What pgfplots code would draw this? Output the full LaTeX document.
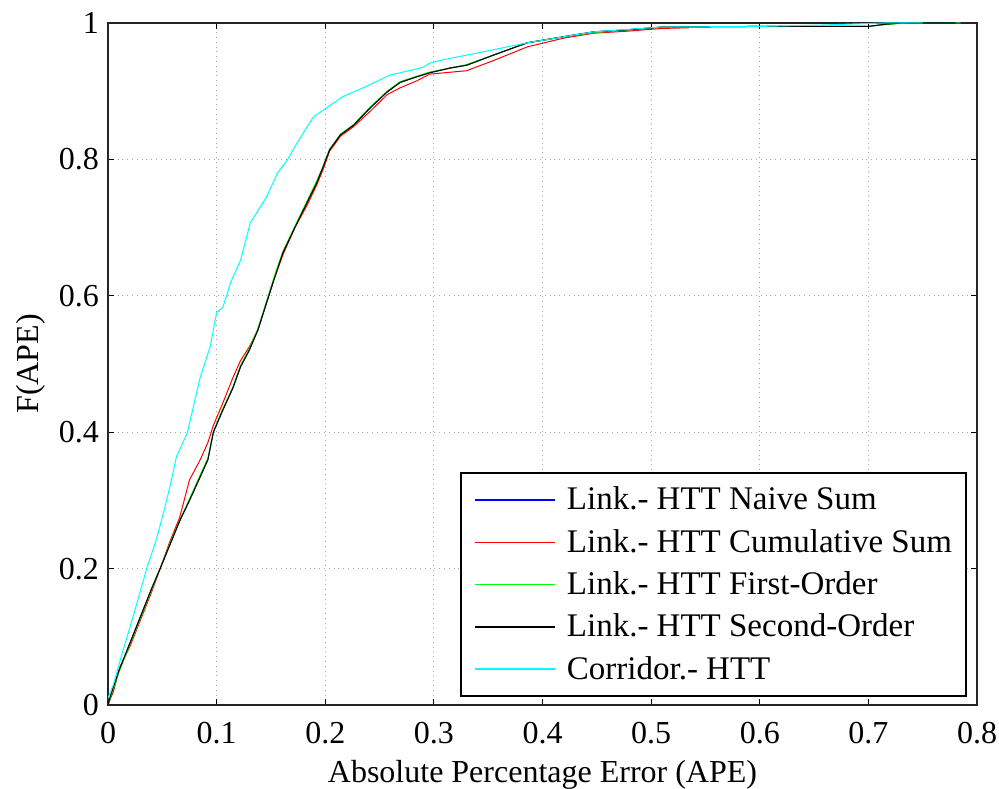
\documentclass[border=0pt]{standalone}
\usepackage{pgfplots}
\pgfplotsset{compat=1.18}
\usepackage{fontspec}
\setmainfont{Liberation Serif}
\definecolor{mblue}{rgb}{0,0,1}
\definecolor{mred}{rgb}{1,0,0}
\definecolor{mgreen}{rgb}{0,1,0}
\definecolor{mcyan}{rgb}{0,1,1}
\begin{document}
\begin{tikzpicture}
\begin{axis}[
  at={(0,0)}, anchor=south west,
  scale only axis, width=434.5pt, height=341pt,
  xmin=0, xmax=0.8, ymin=0, ymax=1,
  xtick={0,0.1,...,0.8}, ytick={0,0.2,...,1},
  xticklabels={0,0.1,0.2,0.3,0.4,0.5,0.6,0.7,0.8},
  yticklabels={0,0.2,0.4,0.6,0.8,1},
  /pgf/number format/assume math mode=true,
  tick label style={font=\fontsize{16}{18}\selectfont},
  xticklabel style={anchor=base, yshift=-19pt},
  yticklabel style={anchor=east, xshift=-1pt},
  label style={font=\fontsize{16}{18}\selectfont},
  xlabel={Absolute Percentage Error (APE)},
  ylabel={F(APE)},
  xlabel style={at={(axis description cs:0.5,0)}, anchor=base, yshift=-38.5pt},
  ylabel style={at={(axis description cs:-0.08,0.5)}, anchor=base},
  grid=major,
  major grid style={gray!70, dotted, line width=0.5pt},
  tick align=inside, tick pos=both,
  major tick length=3pt,
  axis line style={line width=0.9pt, black!85},
  every tick/.style={black, line width=0.6pt},
  legend style={at={(0.988,0.012)}, anchor=south east,
    font=\fontsize{16.5}{19}\selectfont, draw=black, line width=0.7pt,
    row sep=4.2pt, inner xsep=5pt, inner ysep=5pt},
  legend cell align=left,
  legend image code/.code={%
    \path[draw=none] (0pt,-2pt) rectangle (46pt,2pt);
    \draw[#1, line width=0.7pt] (2pt,0pt) -- (42pt,0pt);},
]
\addplot[mblue, line width=0.5pt] coordinates {
(0,0) (0.002,0.012) (0.01,0.05) (0.02,0.09) (0.03,0.13) (0.04,0.17) (0.048,0.20) (0.057,0.235) (0.066,0.27) (0.075,0.30) (0.085,0.335) (0.092,0.36) (0.097,0.40) (0.105,0.43) (0.115,0.465) (0.122,0.496) (0.13,0.52) (0.138,0.55) (0.146,0.59) (0.153,0.625) (0.161,0.663) (0.172,0.70) (0.183,0.736) (0.192,0.765) (0.198,0.789) (0.204,0.814) (0.214,0.836) (0.226,0.850) (0.241,0.875) (0.257,0.899) (0.269,0.913) (0.284,0.921) (0.296,0.927) (0.315,0.934) (0.330,0.938) (0.355,0.953) (0.386,0.971) (0.42,0.98) (0.447,0.987) (0.478,0.990) (0.51,0.994) (0.60,0.995) (0.70,0.995) (0.715,0.998) (0.73,1.0) (0.78,1.0)};
\addlegendentry{Link.- HTT Naive Sum}
\addplot[mred, line width=0.5pt] coordinates {
(0,0) (0.005,0.02) (0.011,0.056) (0.02,0.085) (0.03,0.125) (0.04,0.165) (0.048,0.20) (0.057,0.24) (0.066,0.275) (0.075,0.33) (0.085,0.36) (0.092,0.385) (0.097,0.41) (0.105,0.44) (0.115,0.48) (0.122,0.505) (0.13,0.525) (0.138,0.55) (0.146,0.59) (0.153,0.625) (0.161,0.66) (0.172,0.70) (0.183,0.732) (0.192,0.762) (0.198,0.785) (0.204,0.812) (0.214,0.834) (0.226,0.848) (0.241,0.870) (0.257,0.895) (0.269,0.905) (0.284,0.915) (0.296,0.925) (0.33,0.930) (0.355,0.945) (0.386,0.965) (0.42,0.978) (0.447,0.985) (0.478,0.988) (0.51,0.992) (0.535,0.993)};
\addlegendentry{Link.- HTT Cumulative Sum}
\addplot[mgreen, line width=0.5pt] coordinates {
(0,0) (0.003,0.015) (0.01,0.048) (0.02,0.088) (0.03,0.128) (0.04,0.168) (0.048,0.20) (0.057,0.237) (0.066,0.27) (0.075,0.302) (0.085,0.338) (0.092,0.362) (0.097,0.40) (0.105,0.432) (0.115,0.466) (0.122,0.498) (0.13,0.522) (0.138,0.552) (0.146,0.592) (0.153,0.628) (0.161,0.665) (0.172,0.702) (0.183,0.738) (0.192,0.768) (0.198,0.79) (0.204,0.815) (0.214,0.837) (0.226,0.851) (0.241,0.876) (0.257,0.90) (0.269,0.914) (0.284,0.922) (0.296,0.928) (0.315,0.934) (0.330,0.939) (0.355,0.953) (0.386,0.971) (0.42,0.98) (0.447,0.986) (0.478,0.990) (0.51,0.994) (0.60,0.995) (0.70,0.995) (0.718,0.998) (0.735,1.0) (0.785,1.0)};
\addlegendentry{Link.- HTT First-Order}
\addplot[black, line width=0.5pt] coordinates {
(0,0) (0.002,0.012) (0.01,0.05) (0.02,0.09) (0.03,0.13) (0.04,0.17) (0.048,0.20) (0.057,0.235) (0.066,0.27) (0.075,0.30) (0.085,0.335) (0.092,0.36) (0.097,0.40) (0.105,0.43) (0.115,0.465) (0.122,0.496) (0.13,0.52) (0.138,0.55) (0.146,0.59) (0.153,0.625) (0.161,0.663) (0.172,0.70) (0.183,0.736) (0.192,0.765) (0.198,0.789) (0.204,0.814) (0.214,0.836) (0.226,0.850) (0.241,0.875) (0.257,0.899) (0.269,0.913) (0.284,0.921) (0.296,0.927) (0.315,0.934) (0.330,0.938) (0.355,0.953) (0.386,0.971) (0.42,0.98) (0.447,0.987) (0.478,0.990) (0.51,0.994) (0.60,0.995) (0.70,0.995) (0.715,0.998) (0.73,1.0) (0.78,1.0)};
\addlegendentry{Link.- HTT Second-Order}
\addplot[mcyan, line width=0.5pt] coordinates {
(0,0.01) (0.005,0.03) (0.012,0.07) (0.023,0.129) (0.036,0.202) (0.044,0.24) (0.051,0.281) (0.057,0.32) (0.063,0.364) (0.073,0.399) (0.079,0.44) (0.085,0.481) (0.094,0.525) (0.100,0.575) (0.106,0.584) (0.113,0.62) (0.122,0.652) (0.131,0.707) (0.146,0.745) (0.156,0.780) (0.165,0.799) (0.174,0.824) (0.189,0.862) (0.198,0.872) (0.216,0.892) (0.235,0.905) (0.260,0.924) (0.269,0.927) (0.290,0.935) (0.296,0.941) (0.308,0.946) (0.340,0.956) (0.386,0.971) (0.447,0.987) (0.508,0.994) (0.60,0.995) (0.656,0.997) (0.714,1.0) (0.75,1.0)};
\addlegendentry{Corridor.- HTT}
\end{axis}
\pgfresetboundingbox
\path[use as bounding box] (-54pt,-41.5pt) rectangle (445.5pt,352.5pt);
\end{tikzpicture}
\end{document}
